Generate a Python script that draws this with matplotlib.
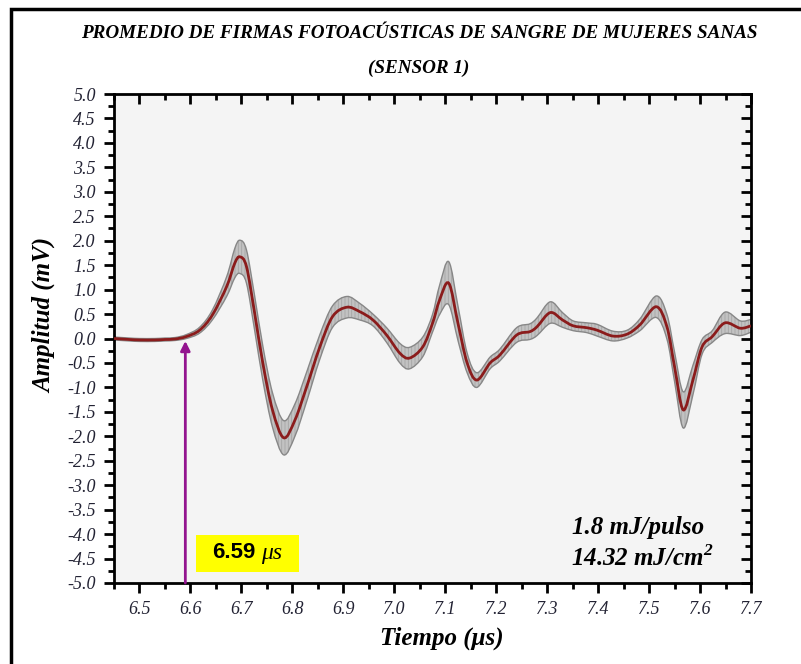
import matplotlib

matplotlib.use("Agg")
import matplotlib.pyplot as plt
from matplotlib.patches import PathPatch, Rectangle
from matplotlib.path import Path
from matplotlib.ticker import MultipleLocator

# averaged photoacoustic signature (sensor 1): time in us, amplitude in mV
TIME = [6.45, 6.48, 6.50, 6.53, 6.55, 6.57, 6.592, 6.618, 6.643, 6.671,
        6.687, 6.697, 6.710, 6.726, 6.742, 6.761, 6.783, 6.805, 6.828, 6.854,
        6.879, 6.907, 6.932, 6.958, 6.985, 7.011, 7.030, 7.056, 7.075, 7.089,
        7.107, 7.125, 7.143, 7.162, 7.188, 7.207, 7.240, 7.266, 7.280, 7.306,
        7.330, 7.351, 7.378, 7.398, 7.429, 7.457, 7.482, 7.514, 7.535, 7.550,
        7.567, 7.586, 7.604, 7.624, 7.649, 7.679, 7.700]
MEAN = [0.00, -0.02, -0.03, -0.03, -0.02, -0.01, 0.04, 0.17, 0.48, 1.06,
        1.54, 1.67, 1.47, 0.52, -0.50, -1.46, -2.03, -1.67, -0.99, -0.17,
        0.45, 0.64, 0.55, 0.38, 0.07, -0.30, -0.40, -0.17, 0.31, 0.79,
        1.13, 0.31, -0.50, -0.85, -0.50, -0.34, 0.07, 0.14, 0.24, 0.53,
        0.38, 0.26, 0.22, 0.17, 0.05, 0.09, 0.28, 0.65, 0.24, -0.58,
        -1.46, -0.85, -0.17, 0.04, 0.32, 0.21, 0.26]
# half width of the dispersion band around the mean
SPREAD = [0.03, 0.03, 0.03, 0.03, 0.03, 0.03, 0.04, 0.06, 0.10, 0.20,
          0.30, 0.34, 0.34, 0.35, 0.35, 0.35, 0.35, 0.33, 0.30, 0.25,
          0.22, 0.22, 0.17, 0.12, 0.15, 0.20, 0.22, 0.20, 0.18, 0.30,
          0.44, 0.35, 0.20, 0.15, 0.12, 0.12, 0.15, 0.16, 0.18, 0.22,
          0.15, 0.10, 0.10, 0.12, 0.10, 0.08, 0.12, 0.22, 0.25, 0.30,
          0.37, 0.30, 0.15, 0.12, 0.22, 0.15, 0.13]
ONSET = 6.59

SERIF = "Liberation Serif"
plt.rcParams["mathtext.fontset"] = "custom"
plt.rcParams["mathtext.bf"] = "Liberation Serif:bold:italic"
plt.rcParams["hatch.linewidth"] = 0.6


def smooth_path(xs, ys):
    """Catmull-Rom through the points, as cubic Bezier segments."""
    pts = list(zip(xs, ys))
    verts = [pts[0]]
    codes = [Path.MOVETO]
    n = len(pts)
    for i in range(n - 1):
        p0 = pts[max(i - 1, 0)]
        p1 = pts[i]
        p2 = pts[i + 1]
        p3 = pts[min(i + 2, n - 1)]
        c1 = (p1[0] + (p2[0] - p0[0]) / 6, p1[1] + (p2[1] - p0[1]) / 6)
        c2 = (p2[0] - (p3[0] - p1[0]) / 6, p2[1] - (p3[1] - p1[1]) / 6)
        verts += [c1, c2, p2]
        codes += [Path.CURVE4] * 3
    return verts, codes


lower = [m - s for m, s in zip(MEAN, SPREAD)]
upper = [m + s for m, s in zip(MEAN, SPREAD)]

fig = plt.figure(figsize=(8.01, 6.64), dpi=100)
ax = fig.add_axes([0.1423, 0.1220, 0.7953, 0.7364])
ax.set_facecolor("#f4f4f4")

# dispersion band: upper edge forward, lower edge back
uv, uc = smooth_path(TIME, upper)
lv, lc = smooth_path(TIME[::-1], lower[::-1])
band = Path(uv + lv + [uv[0]], uc + [Path.LINETO] + lc[1:] + [Path.CLOSEPOLY])
ax.add_patch(PathPatch(band, facecolor="#c2c2c2", edgecolor="#a6a6a6", lw=0,
                       hatch="|||||", zorder=2))
for edge in (upper, lower):
    v, c = smooth_path(TIME, edge)
    ax.add_patch(PathPatch(Path(v, c), facecolor="none", edgecolor="#878787",
                           lw=1.0, zorder=2))
mv, mc = smooth_path(TIME, MEAN)
ax.add_patch(PathPatch(Path(mv, mc), facecolor="none", edgecolor="#8b1c1c",
                       lw=2.0, zorder=3))

# onset marker
ax.annotate("", xy=(ONSET, -0.05), xytext=(ONSET, -5.0),
            arrowprops=dict(arrowstyle="-|>", color="#93148f", lw=2,
                            mutation_scale=14, shrinkA=0, shrinkB=0),
            zorder=4)
ax.add_patch(Rectangle((6.61, -4.77), 0.204, 0.75, facecolor="#ffff00",
                       edgecolor="none", zorder=4))
ax.text(6.685, -4.37, f"{ONSET:.2f}", fontsize=16, fontweight="bold",
        family="Liberation Sans", ha="center", va="center", zorder=5)
ax.text(6.738, -4.40, "μs", fontsize=17, style="italic", family=SERIF,
        ha="left", va="center", zorder=5)

ax.text(7.349, -3.87, "1.8 mJ/pulso", fontsize=18, fontweight="bold",
        style="italic", family=SERIF, ha="left", va="center")
ax.text(7.347, -4.49, "14.32 mJ/cm$^{\\mathbf{2}}$", fontsize=18,
        fontweight="bold", style="italic", family=SERIF, ha="left",
        va="center")

ax.set_xlim(6.45, 7.7)
ax.set_ylim(-5.0, 5.0)
ax.xaxis.set_minor_locator(MultipleLocator(0.05))
ax.yaxis.set_minor_locator(MultipleLocator(0.25))
ax.set_xticks([6.5 + 0.1 * i for i in range(13)])
ax.set_xticklabels([f"{6.5 + 0.1 * i:.1f}" for i in range(13)])
ax.set_yticks([-5.0 + 0.5 * i for i in range(21)])
ax.set_yticklabels([f"{-5.0 + 0.5 * i:.1f}" for i in range(21)])

ax.tick_params(which="both", direction="out", width=2, colors="black",
               labelcolor="#222233")
ax.tick_params(which="major", length=7, pad=6)
ax.tick_params(which="minor", length=4)
for lab in ax.get_xticklabels() + ax.get_yticklabels():
    lab.set_family(SERIF)
    lab.set_style("italic")
    lab.set_fontsize(13)
for sp in ax.spines.values():
    sp.set_linewidth(2)

# inward ticks on top and right edges
top = ax.secondary_xaxis("top")
top.set_xticks(ax.get_xticks(minor=False))
top.xaxis.set_minor_locator(MultipleLocator(0.05))
top.tick_params(which="both", direction="in", width=2, labeltop=False)
top.tick_params(which="major", length=7)
top.tick_params(which="minor", length=4)
right = ax.secondary_yaxis("right")
right.set_yticks(ax.get_yticks(minor=False))
right.yaxis.set_minor_locator(MultipleLocator(0.25))
right.tick_params(which="both", direction="in", width=2, labelright=False)
right.tick_params(which="major", length=7)
right.tick_params(which="minor", length=4)

ax.set_xlabel("Tiempo (μs)", fontsize=18, fontweight="bold", style="italic",
              family=SERIF)
ax.set_ylabel("Amplitud (mV)", fontsize=18, fontweight="bold", style="italic",
              family=SERIF)
ax.xaxis.set_label_coords(0.515, -0.09)
ax.yaxis.set_label_coords(-0.091, 0.548)

fig.text(0.523, 0.950, "PROMEDIO DE FIRMAS FOTOACÚSTICAS DE SANGRE DE MUJERES SANAS",
         fontsize=13.8, fontweight="bold", style="italic", family=SERIF,
         ha="center", va="center")
fig.text(0.523, 0.897, "(SENSOR 1)", fontsize=13.8, fontweight="bold",
         style="italic", family=SERIF, ha="center", va="center")

# frame around the whole figure
fig.patches.append(Rectangle((11 / 801, -0.05), 1.2, 1.05 - 9 / 664,
                             transform=fig.transFigure, fill=False,
                             edgecolor="black", lw=2.5))

fig.savefig("out.png", dpi=100)
